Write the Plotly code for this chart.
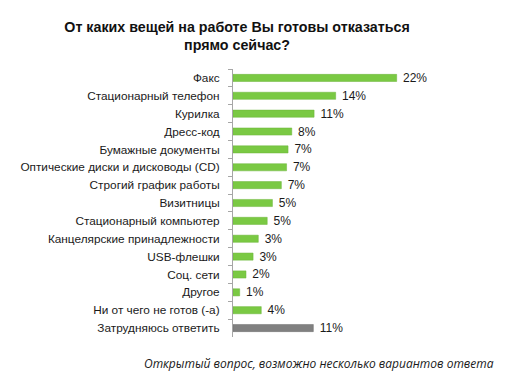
import plotly.graph_objects as go

categories = [
    "Факс",
    "Стационарный телефон",
    "Курилка",
    "Дресс-код",
    "Бумажные документы",
    "Оптические диски и дисководы (CD)",
    "Строгий график работы",
    "Визитницы",
    "Стационарный компьютер",
    "Канцелярские принадлежности",
    "USB-флешки",
    "Соц. сети",
    "Другое",
    "Ни от чего не готов (-а)",
    "Затрудняюсь ответить",
]
values = [22.0, 13.8, 10.9, 7.9, 7.4, 7.2, 6.5, 5.3, 4.6, 3.4, 2.7, 1.75, 0.9, 3.8, 10.8]
value_labels = ["22%", "14%", "11%", "8%", "7%", "7%", "7%", "5%", "5%", "3%", "3%", "2%", "1%", "4%", "11%"]
bar_colors = ["#7AC943"] * 14 + ["#808080"]
line_colors = ["#6DB53A"] * 14 + ["#6E6E6E"]

fig = go.Figure(
    go.Bar(
        x=values,
        y=categories,
        orientation="h",
        marker=dict(color=bar_colors, line=dict(color=line_colors, width=0.5)),
        width=0.4,
        text=value_labels,
        texttemplate="\u00a0%{text}",
        textposition="outside",
        constraintext="none",
        textfont=dict(family="Liberation Sans, Arial", size=12, color="#1a1a1a"),
        cliponaxis=False,
        hoverinfo="skip",
    )
)

fig.update_layout(
    width=505,
    height=380,
    margin=dict(l=221, r=94, t=61, b=51),
    paper_bgcolor="white",
    plot_bgcolor="white",
    showlegend=False,
    title=dict(
        text="От каких вещей на работе Вы готовы отказаться<br>прямо сейчас?",
        x=0.4535,
        xanchor="center",
        y=0.937,
        yanchor="middle",
        font=dict(family="Liberation Sans, Arial", size=14.25, color="#111111", weight="bold"),
    ),
    xaxis=dict(
        range=[0, 25],
        visible=False,
        fixedrange=True,
    ),
    yaxis=dict(
        autorange="reversed",
        showline=True,
        linecolor="#A6A6A6",
        linewidth=1,
        ticks="outside",
        tickson="boundaries",
        ticklen=4,
        tickcolor="#A6A6A6",
        showgrid=False,
        tickfont=dict(family="Liberation Sans, Arial", size=11.8, color="#1a1a1a"),
        ticklabelstandoff=10,
    ),
    annotations=[
        dict(
            text="<i>Открытый вопрос, возможно несколько вариантов ответа</i>",
            xref="paper",
            yref="paper",
            x=1.415,
            y=-0.1007,
            xanchor="right",
            yanchor="middle",
            showarrow=False,
            font=dict(family="Open Sans, DejaVu Sans", size=12, color="#1a1a1a"),
        )
    ],
)

fig.write_html("out.html")
